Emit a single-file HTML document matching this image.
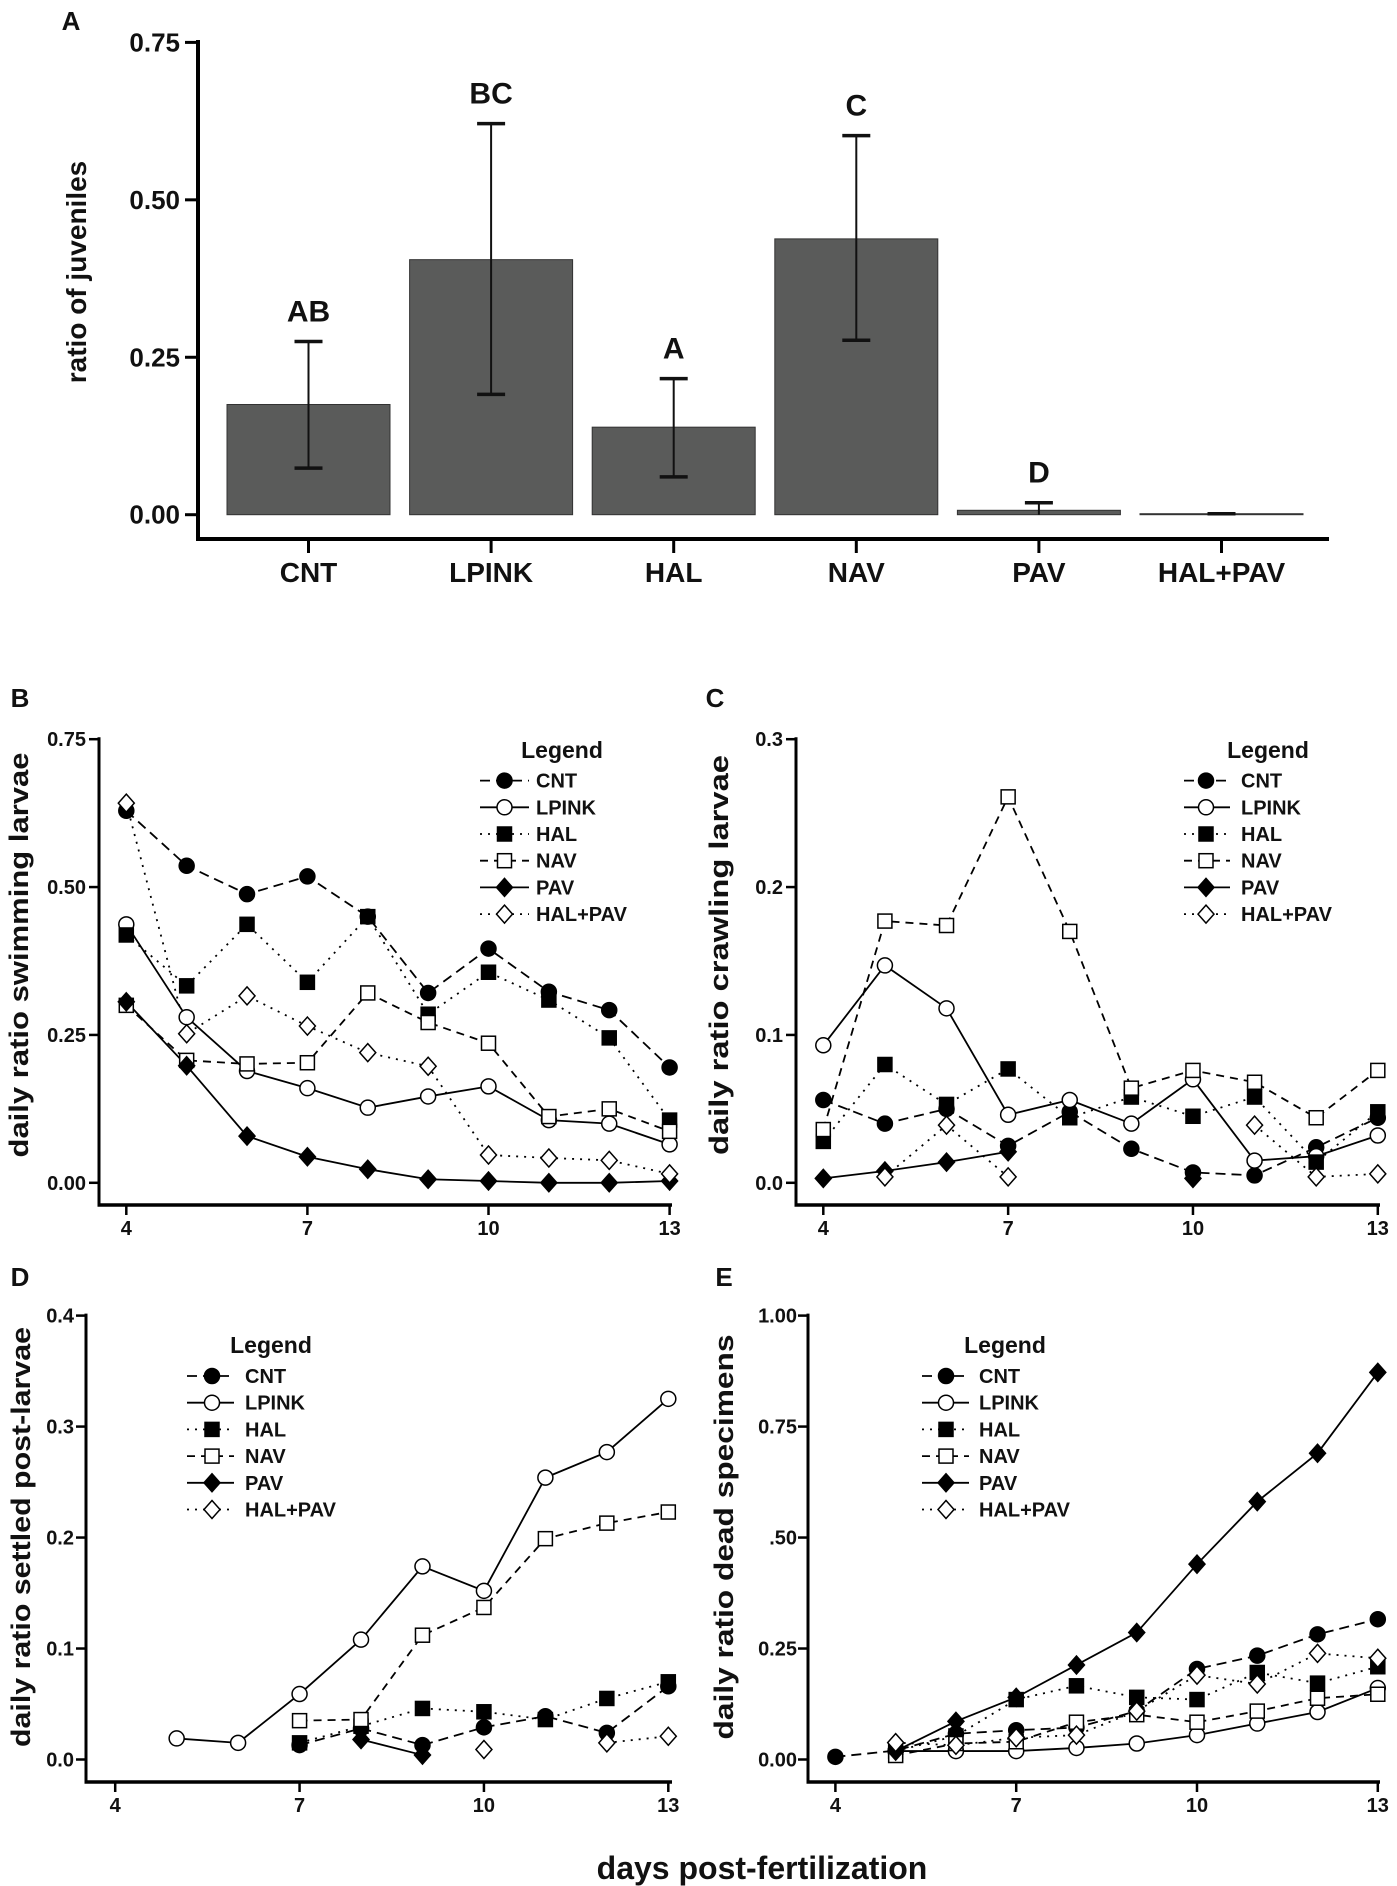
<!DOCTYPE html>
<html><head><meta charset="utf-8">
<style>
html,body{margin:0;padding:0;background:#fff;}
svg{display:block;}
text{font-family:"Liberation Sans Narrow","Liberation Sans",sans-serif;font-weight:bold;fill:#111;}
.wide{font-family:"Liberation Sans",sans-serif;}
</style></head>
<body>
<svg id="fig" xmlns="http://www.w3.org/2000/svg" width="1397" height="1886" viewBox="0 0 1397 1886"></svg>
<script>
// ---------- Panel A data ----------
const aCategories = ["CNT","LPINK","HAL","NAV","PAV","HAL+PAV"];
const aValues = [0.175,0.405,0.139,0.438,0.007,0.0008];
const aErrHigh = [0.275,0.621,0.216,0.602,0.019,0.0015];
const aErrLow = [0.074,0.191,0.060,0.277,0.0,0.0];
const aLetters = ["AB","BC","A","C","D",""];
const aTicks = [0,0.25,0.5,0.75];
const aTickLabels = ["0.00","0.25","0.50","0.75"];
// ---------- shared ----------
const days = [4,5,6,7,8,9,10,11,12,13];
const dayTicks = [4,7,10,13];
const seriesNames = ["CNT","LPINK","HAL","NAV","PAV","HAL+PAV"];
// ---------- Panel B (swimming) ----------
const bCNT   = [0.629,0.536,0.488,0.518,0.450,0.321,0.396,0.323,0.292,0.195];
const bLPINK = [0.437,0.280,0.189,0.160,0.127,0.146,0.163,0.106,0.100,0.065];
const bHAL   = [0.419,0.333,0.437,0.339,0.450,0.285,0.356,0.309,0.245,0.106];
const bNAV   = [0.300,0.207,0.201,0.203,0.321,0.271,0.236,0.112,0.125,0.087];
const bPAV   = [0.306,0.198,0.079,0.044,0.023,0.006,0.003,0.000,0.000,0.003];
const bHALPAV= [0.642,0.252,0.316,0.265,0.220,0.197,0.047,0.042,0.038,0.015];
const bTicks = [0,0.25,0.5,0.75];
const bTickLabels = ["0.00","0.25","0.50","0.75"];
// ---------- Panel C (crawling) ----------
const cCNT   = [0.056,0.040,0.050,0.025,0.048,0.023,0.007,0.005,0.024,0.044];
const cLPINK = [0.093,0.147,0.118,0.046,0.056,0.040,0.070,0.015,0.018,0.032];
const cHAL   = [0.028,0.080,0.053,0.077,0.044,0.058,0.045,0.058,0.014,0.048];
const cNAV   = [0.036,0.177,0.174,0.261,0.170,0.064,0.076,0.068,0.044,0.076];
const cPAV   = [0.003,0.008,0.014,0.021,null,null,0.003,null,null,null];
const cHALPAV= [null,0.004,0.039,0.004,null,null,null,0.039,0.004,0.006];
const cTicks = [0,0.1,0.2,0.3];
const cTickLabels = ["0.0","0.1","0.2","0.3"];
// ---------- Panel D (settled) ----------
const dCNT   = [null,null,null,0.013,0.028,0.013,0.029,0.039,0.024,0.066];
const dLPINK = [null,0.019,0.015,0.059,0.108,0.174,0.152,0.254,0.277,0.325];
const dHAL   = [null,null,null,0.015,0.030,0.046,0.043,0.036,0.055,0.070];
const dNAV   = [null,null,null,0.035,0.036,0.112,0.137,0.199,0.213,0.223];
const dPAV   = [null,null,null,null,0.018,0.004,null,null,null,null];
const dHALPAV= [null,null,null,null,null,null,0.009,null,0.015,0.021];
const dTicks = [0,0.1,0.2,0.3,0.4];
const dTickLabels = ["0.0","0.1","0.2","0.3","0.4"];
// ---------- Panel E (dead) ----------
const eCNT   = [0.006,0.020,0.058,0.066,0.072,0.109,0.204,0.234,0.282,0.316];
const eLPINK = [null,0.019,0.019,0.019,0.026,0.036,0.055,0.081,0.107,0.161];
const eHAL   = [null,0.019,0.053,0.135,0.166,0.140,0.135,0.196,0.172,0.209];
const eNAV   = [null,0.009,0.036,0.040,0.084,0.101,0.084,0.109,0.138,0.147];
const ePAV   = [null,0.019,0.086,0.140,0.213,0.286,0.440,0.581,0.690,0.872];
const eHALPAV= [null,0.038,0.032,0.049,0.055,0.109,0.190,0.170,0.239,0.228];
const eTicks = [0,0.25,0.5,0.75,1.0];
const eTickLabels = ["0.00","0.25",".50","0.75","1.00"];

const NS="http://www.w3.org/2000/svg";
const svg=document.getElementById('fig');
function mk(tag,attrs,parent){const e=document.createElementNS(NS,tag);for(const k in attrs)e.setAttribute(k,attrs[k]);(parent||svg).appendChild(e);return e;}
function txt(str,attrs,parent){const t=mk('text',attrs,parent);t.textContent=str;return t;}

// ================= Panel A =================
(function(){
  const g=mk('g',{});
  
  
  const y0=514.7, yTop=42.4, vmax=0.75;
  const yA=v=>y0-(v/vmax)*(y0-yTop);
  const xStart=227, step=182.6, bw=163;
  const xc=i=>xStart+i*step+bw/2;
  const lab=txt('A',{x:71,y:30,'font-size':26,'text-anchor':'middle'},g);
  
  
  const yax=mk('line',{x1:198,y1:40,x2:198,y2:541,stroke:'#000','stroke-width':4},g);
  
  
  const xax=mk('line',{x1:196,y1:539,x2:1329,y2:539,stroke:'#000','stroke-width':4},g);
  
  
  aTicks.forEach((v,i)=>{
    const tk=mk('line',{x1:185,y1:yA(v),x2:198,y2:yA(v),stroke:'#000','stroke-width':3},g);
    
    
    const tl=txt(aTickLabels[i],{x:180,y:yA(v)+9,'font-size':26,'text-anchor':'end'},g);
    
    
  });
  const yt=txt('ratio of juveniles',{x:0,y:0,'font-size':28,'text-anchor':'middle',class:'wide',transform:'translate(86,272) rotate(-90)'},g);
  
  
  aCategories.forEach((c,i)=>{
    const x=xStart+i*step;
    const h=Math.max(y0-yA(aValues[i]),1);
    const bar=mk('rect',{x:x,y:y0-h,width:bw,height:h,fill:'#5a5b5a',stroke:'#333','stroke-width':1},g);
    
    
    const cx=xc(i);
    const eh=yA(aErrHigh[i]), el=yA(aErrLow[i]);
    const ev=mk('line',{x1:cx,y1:eh,x2:cx,y2:el,stroke:'#111','stroke-width':2},g);
    
    
    mk('line',{x1:cx-14,y1:eh,x2:cx+14,y2:eh,stroke:'#111','stroke-width':3.5},g);
    if(aErrLow[i]>0.001) mk('line',{x1:cx-14,y1:el,x2:cx+14,y2:el,stroke:'#111','stroke-width':3.5},g);
    if(aLetters[i]){
      const lt=txt(aLetters[i],{x:cx,y:eh-20,'font-size':30,'text-anchor':'middle'},g);
      
      
    }
    const xt=mk('line',{x1:cx,y1:539,x2:cx,y2:553,stroke:'#000','stroke-width':3},g);
    
    
    const cl=txt(c,{x:cx,y:582,'font-size':28,'text-anchor':'middle'},g);
    
    
  });
})();

// ================= Line panels =================
const styles=[
  {marker:'circle',fill:'#000',dash:'10,6'},
  {marker:'circle',fill:'#fff',dash:''},
  {marker:'square',fill:'#000',dash:'2,6'},
  {marker:'square',fill:'#fff',dash:'8,6'},
  {marker:'diamond',fill:'#000',dash:''},
  {marker:'diamond',fill:'#fff',dash:'2,6'}
];
function marker(kind,fill,x,y,g){
  let m;
  if(kind==='circle') m=mk('circle',{cx:x,cy:y,r:7.5,fill:fill,stroke:'#000','stroke-width':1.5},g);
  else if(kind==='square') m=mk('rect',{x:x-7,y:y-7,width:14,height:14,fill:fill,stroke:'#000','stroke-width':1.5},g);
  else m=mk('polygon',{points:`${x},${y-9} ${x+8},${y} ${x},${y+9} ${x-8},${y}`,fill:fill,stroke:'#000','stroke-width':1.5},g);
  return m;
}
function linePanel(o, series, ticks, tickLabels){
  const g=mk('g',{});
  
  
  const X=d=>o.x4+(d-4)*(o.x13-o.x4)/9;
  const Y=v=>o.y0+(v/o.vmax)*(o.yTop-o.y0);
  const pl=txt(o.label,{x:o.lx,y:o.ly,'font-size':26,'text-anchor':'middle',class:'wide'},g);
  
  
  const ya=mk('line',{x1:o.ax,y1:o.yTop-2,x2:o.ax,y2:o.axY+1.5,stroke:'#000','stroke-width':3},g);
  
  
  const xa=mk('line',{x1:o.ax-1.5,y1:o.axY,x2:o.axEnd,y2:o.axY,stroke:'#000','stroke-width':3.5},g);
  
  
  ticks.forEach((v,i)=>{
    const tk=mk('line',{x1:o.ax-10,y1:Y(v),x2:o.ax,y2:Y(v),stroke:'#000','stroke-width':2.5},g);
    
    
    const tl=txt(tickLabels[i],{x:o.tlx,y:Y(v)+7,'font-size':20,'text-anchor':'end'},g);
    
    
  });
  dayTicks.forEach(d=>{
    const tk=mk('line',{x1:X(d),y1:o.axY,x2:X(d),y2:o.axY+10,stroke:'#000','stroke-width':2.5},g);
    
    
    const tl=txt(String(d),{x:X(d),y:o.axY+30,'font-size':20,'text-anchor':'middle'},g);
    
    
  });
  const yt=txt(o.ytitle,{x:0,y:0,'font-size':27,'text-anchor':'middle',class:'wide',textLength:o.tlen,lengthAdjust:'spacingAndGlyphs',transform:`translate(${o.ytx},${o.yty}) rotate(-90)`},g);
  
  
  series.forEach((vals,si)=>{
    const st=styles[si];
    const sg=mk('g',{},g);
    
    
    let seg=[];
    const flush=()=>{ if(seg.length>1){ const p=mk('polyline',{points:seg.join(' '),fill:'none',stroke:'#000','stroke-width':1.8,'stroke-dasharray':st.dash},sg);   } seg=[]; };
    vals.forEach((v,i)=>{ if(v===null){flush();} else seg.push(X(days[i])+','+Y(v)); });
    flush();
  });
  series.forEach((vals,si)=>{
    const st=styles[si];
    vals.forEach((v,i)=>{
      if(v===null) return;
      const m=marker(st.marker,st.fill,X(days[i]),Y(v),g);
      
      
    });
  });
  // legend
  const lg=mk('g',{},g);
  
  
  const lt=txt('Legend',{x:o.legCx,y:o.legTy+8,'font-size':23,'text-anchor':'middle'},lg);
  
  
  seriesNames.forEach((n,i)=>{
    const st=styles[i];
    const y=o.legY0+i*26.7;
    const e=mk('g',{},lg);
    
    
    mk('line',{x1:o.legS0,y1:y,x2:o.legS1,y2:y,stroke:'#000','stroke-width':1.8,'stroke-dasharray':st.dash},e);
    marker(st.marker,st.fill,o.legM,y,e);
    txt(n,{x:o.legTx,y:y+7,'font-size':20},e);
  });
}
linePanel({name:'panel-b-swimming-larvae',label:'B',lx:20,ly:707,ax:99,axY:1205,axEnd:672,x4:126.3,x13:669.6,y0:1182.8,yTop:739.2,vmax:0.75,tlx:86,ytitle:'daily ratio swimming larvae',ytx:28,yty:955,tlen:405,legCx:562,legTy:750,legY0:780.6,legS0:480,legS1:529,legM:504.5,legTx:536},
  [bCNT,bLPINK,bHAL,bNAV,bPAV,bHALPAV],bTicks,bTickLabels);
linePanel({name:'panel-c-crawling-larvae',label:'C',lx:715,ly:707,ax:796,axY:1205,axEnd:1380,x4:823.3,x13:1377.8,y0:1182.8,yTop:739.2,vmax:0.3,tlx:783,ytitle:'daily ratio crawling larvae',ytx:728,yty:955,tlen:400,legCx:1268,legTy:750,legY0:780.6,legS0:1184,legS1:1230,legM:1206,legTx:1241},
  [cCNT,cLPINK,cHAL,cNAV,cPAV,cHALPAV],cTicks,cTickLabels);
linePanel({name:'panel-d-settled-post-larvae',label:'D',lx:20,ly:1286,ax:86,axY:1782,axEnd:672,x4:115.2,x13:668.3,y0:1759.5,yTop:1315.6,vmax:0.4,tlx:74,ytitle:'daily ratio settled post-larvae',ytx:30,yty:1537,tlen:420,legCx:271,legTy:1345,legY0:1376,legS0:187,legS1:234,legM:212,legTx:245},
  [dCNT,dLPINK,dHAL,dNAV,dPAV,dHALPAV],dTicks,dTickLabels);
linePanel({name:'panel-e-dead-specimens',label:'E',lx:724,ly:1286,ax:808,axY:1782,axEnd:1380,x4:835.4,x13:1377.8,y0:1759.5,yTop:1315.6,vmax:1.0,tlx:797,ytitle:'daily ratio dead specimens',ytx:733,yty:1537,tlen:405,legCx:1005,legTy:1345,legY0:1376,legS0:922,legS1:969,legM:946,legTx:979},
  [eCNT,eLPINK,eHAL,eNAV,ePAV,eHALPAV],eTicks,eTickLabels);

const xt=txt('days post-fertilization',{x:762,y:1879,'font-size':32,'text-anchor':'middle'});


</script>
</body></html>
